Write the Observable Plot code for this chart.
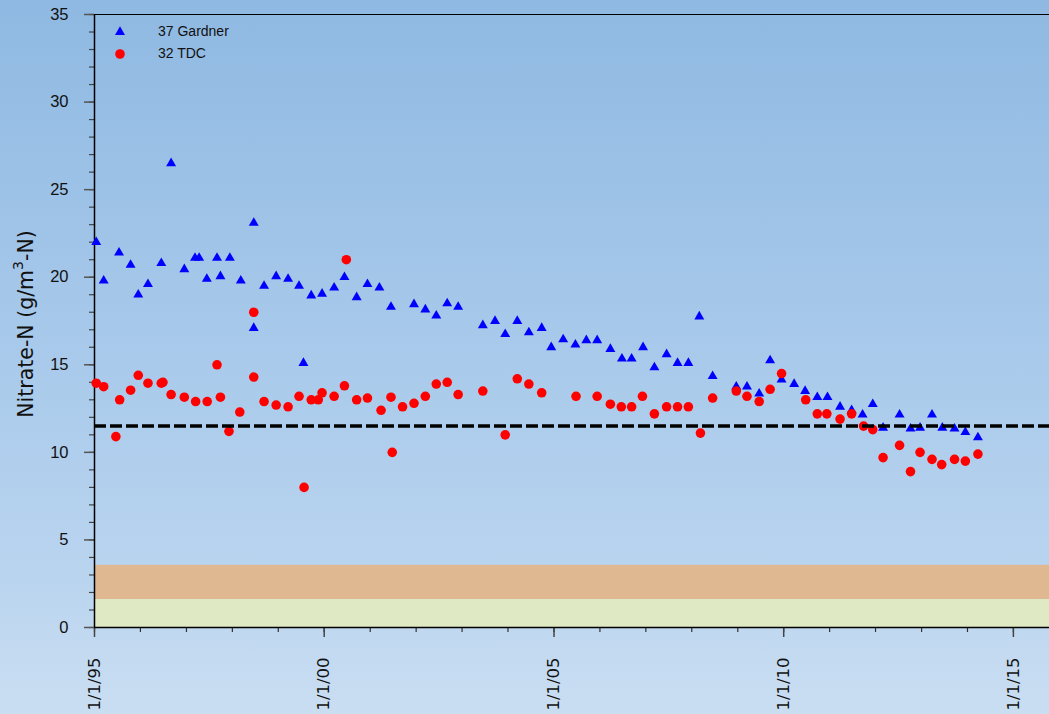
<!DOCTYPE html>
<html><head><meta charset="utf-8">
<script src="https://cdn.jsdelivr.net/npm/d3@7"></script>
<script src="https://cdn.jsdelivr.net/npm/@observablehq/plot@0.6"></script>
<style>
html,body{margin:0;padding:0;width:1049px;height:714px;overflow:hidden;
background:linear-gradient(to bottom,#8fb9e2 0%,#a6c8ea 45%,#b9d4ef 80%,#cadef2 100%);}
#chart{position:relative;width:1049px;height:714px;}
</style></head><body><div id="chart"></div>
<script>
// ---- data ----
const seriesNames = ["37 Gardner", "32 TDC"];
const gardnerDates = ["1995-01-15","1995-03-15","1995-07-15","1995-10-15","1995-12-15","1996-03-01","1996-06-15","1996-09-01","1996-12-15","1997-03-10","1997-04-12","1997-06-12","1997-09-01","1997-09-28","1997-12-12","1998-03-09","1998-06-20","1998-06-20","1998-09-10","1998-12-15","1999-03-20","1999-06-15","1999-07-20","1999-09-20","1999-12-15","2000-03-20","2000-06-10","2000-09-15","2000-12-10","2001-03-15","2001-06-15","2001-12-15","2002-03-15","2002-06-10","2002-09-05","2002-12-01","2003-06-15","2003-09-20","2003-12-10","2004-03-15","2004-06-15","2004-09-25","2004-12-10","2005-03-15","2005-06-20","2005-09-15","2005-12-10","2006-03-25","2006-06-25","2006-09-10","2006-12-10","2007-03-10","2007-06-15","2007-09-10","2007-12-05","2008-03-01","2008-06-15","2008-12-20","2009-03-15","2009-06-20","2009-09-15","2009-12-15","2010-03-25","2010-06-20","2010-09-25","2010-12-15","2011-03-25","2011-06-25","2011-09-20","2011-12-10","2012-03-01","2012-07-10","2012-10-05","2012-12-20","2013-03-25","2013-06-15","2013-09-20","2013-12-15","2014-03-25"];
const gardnerValues = [22.0,19.8,21.4,20.7,19.0,19.6,20.8,26.5,20.45,21.1,21.1,19.9,21.1,20.05,21.1,19.8,23.1,17.1,19.5,20.05,19.9,19.5,15.1,18.95,19.05,19.4,20.0,18.85,19.6,19.4,18.3,18.45,18.15,17.8,18.5,18.3,17.25,17.5,16.75,17.5,16.85,17.1,16.0,16.45,16.15,16.4,16.4,15.9,15.35,15.35,16.0,14.85,15.6,15.1,15.1,17.75,14.35,13.75,13.75,13.35,15.25,14.15,13.9,13.5,13.15,13.15,12.6,12.4,12.15,12.75,11.4,12.15,11.35,11.4,12.15,11.4,11.35,11.15,10.85];
const tdcDates = ["1995-01-15","1995-03-15","1995-06-20","1995-07-20","1995-10-15","1995-12-15","1996-03-01","1996-06-15","1996-06-28","1996-09-01","1996-12-15","1997-03-15","1997-06-15","1997-09-01","1997-09-28","1997-12-05","1998-03-01","1998-06-20","1998-06-20","1998-09-10","1998-12-15","1999-03-20","1999-06-15","1999-07-25","1999-09-20","1999-11-15","1999-12-15","2000-03-20","2000-06-10","2000-06-25","2000-09-15","2000-12-10","2001-03-28","2001-06-15","2001-06-25","2001-09-15","2001-12-15","2002-03-15","2002-06-10","2002-09-05","2002-12-01","2003-06-15","2003-12-10","2004-03-15","2004-06-15","2004-09-25","2005-06-25","2005-12-10","2006-03-25","2006-06-20","2006-09-10","2006-12-05","2007-03-10","2007-06-15","2007-09-10","2007-12-05","2008-03-10","2008-06-15","2008-12-20","2009-03-15","2009-06-20","2009-09-15","2009-12-15","2010-06-25","2010-09-25","2010-12-10","2011-03-25","2011-06-25","2011-09-28","2011-12-10","2012-03-01","2012-07-10","2012-10-05","2012-12-20","2013-03-25","2013-06-10","2013-09-20","2013-12-15","2014-03-25"];
const tdcValues = [13.95,13.75,10.9,13.0,13.55,14.4,13.95,13.95,14.0,13.3,13.15,12.9,12.9,15.0,13.15,11.2,12.3,18.0,14.3,12.9,12.7,12.6,13.2,8.0,13.0,13.0,13.4,13.2,13.8,21.0,13.0,13.1,12.4,13.15,10.0,12.6,12.8,13.2,13.9,14.0,13.3,13.5,11.0,14.2,13.9,13.4,13.2,13.2,12.75,12.6,12.6,13.2,12.2,12.6,12.6,12.6,11.1,13.1,13.5,13.2,12.9,13.6,14.5,13.0,12.2,12.2,11.9,12.2,11.5,11.3,9.7,10.4,8.9,10.0,9.6,9.3,9.6,9.5,9.9];
const standardValue = [11.5];
const bandLimits = [0, 1.6, 3.55];
const yMajorTicks = [0, 5, 10, 15, 20, 25, 30, 35];
const xMajorTickDates = ["1995-01-01","2000-01-01","2005-01-01","2010-01-01","2015-01-01"];
const xTickLabels = ["1/1/95","1/1/00","1/1/05","1/1/10","1/1/15"];
const xDomainDates = ["1995-01-01","2015-10-15"];

// ---- build ----
const gardner = gardnerDates.map((d, i) => ({date: new Date(d), value: gardnerValues[i]}));
const tdc = tdcDates.map((d, i) => ({date: new Date(d), value: tdcValues[i]}));
const xDomain = xDomainDates.map(d => new Date(d));
const xMajor = xMajorTickDates.map(d => new Date(d));
const labelMap = new Map(xMajor.map((d, i) => [+d, xTickLabels[i]]));
const xMinor = d3.utcYear.range(new Date("1995-01-01"), xDomain[1]);
const yMinor = d3.range(0, 36, 1);
const bands = [
  {lo: bandLimits[0], hi: bandLimits[1], color: "#dfeac4"},
  {lo: bandLimits[1], hi: bandLimits[2], color: "#dfb791"}
];
const triR = 3.7, dotR = 4.8;

const chart = Plot.plot({
  width: 1049, height: 714,
  marginLeft: 94, marginRight: 0, marginTop: 14, marginBottom: 87,
  style: {background: "transparent", overflow: "visible"},
  x: {type: "utc", domain: xDomain, axis: null},
  y: {domain: [0, 35], axis: null},
  marks: [
    Plot.rect(bands.slice(0,1), {x1: () => xDomain[0], x2: () => xDomain[1], y1: "lo", y2: "hi", fill: bands[0].color}),
    Plot.rect(bands.slice(1,2), {x1: () => xDomain[0], x2: () => xDomain[1], y1: "lo", y2: "hi", fill: bands[1].color}),
    Plot.axisY(yMinor, {tickSize: 5, tickFormat: () => "", stroke: "#444", strokeWidth: 1.2}),
    Plot.axisY(yMajorTicks, {tickSize: 10, tickPadding: 16, fontSize: 16.5, fontFamily: "Liberation Sans, Arial, sans-serif", fill: "#111", stroke: "#555", strokeWidth: 1.5}),
    Plot.axisX(xMinor, {tickSize: 5, tickFormat: () => "", stroke: "#333", strokeWidth: 1.2}),
    Plot.axisX(xMajor, {tickSize: 10, tickPadding: 20, tickRotate: -90, tickFormat: d => labelMap.get(+d), fontSize: 16.5, fontFamily: "DejaVu Sans, Verdana, sans-serif", fill: "#111", stroke: "#444", strokeWidth: 1.5}),
    Plot.ruleY([0], {stroke: "black", strokeWidth: 1.5}),
    Plot.ruleY([35], {stroke: "black", strokeWidth: 1.2}),
    Plot.ruleX([xDomain[0]], {stroke: "black", strokeWidth: 1.5}),
    Plot.dot(gardner, {x: "date", y: "value", symbol: "triangle", r: triR, fill: "#0000ff", stroke: "none"}),
    Plot.dot(tdc, {x: "date", y: "value", symbol: "circle", r: dotR, fill: "#ff0000", stroke: "none"}),
    Plot.ruleY(standardValue, {stroke: "black", strokeWidth: 3.5, strokeDasharray: "12,4"})
  ]
});
document.getElementById("chart").appendChild(chart);

// y-axis title with superscript
const svg = d3.select(chart);
const title = svg.append("text")
  .attr("transform", "translate(27,324) rotate(-90)")
  .attr("text-anchor", "middle")
  .attr("dominant-baseline", "middle")
  .attr("font-family", "DejaVu Sans, Verdana, sans-serif")
  .attr("font-size", 20.5)
  .attr("fill", "#111");
title.append("tspan").text("Nitrate-N (g/m");
title.append("tspan").attr("font-size", 14).attr("dy", -8).text("3");
title.append("tspan").attr("dy", 8).text("-N)");

// legend
const legend = svg.append("g").attr("font-family", "Liberation Sans, Arial, sans-serif").attr("font-size", 14).attr("fill", "#111").attr("text-anchor", "start");
const legendItems = [
  {name: seriesNames[0], sym: d3.symbolTriangle, r: triR, color: "#0000ff", y: 32},
  {name: seriesNames[1], sym: d3.symbolCircle, r: dotR, color: "#ff0000", y: 54}
];
legendItems.forEach(it => {
  legend.append("path").attr("d", d3.symbol(it.sym, it.r * it.r * Math.PI)()).attr("transform", `translate(120,${it.y})`).attr("fill", it.color);
  legend.append("text").attr("x", 158).attr("y", it.y).attr("dominant-baseline", "middle").attr("text-anchor", "start").text(it.name);
});
</script>
</body></html>
